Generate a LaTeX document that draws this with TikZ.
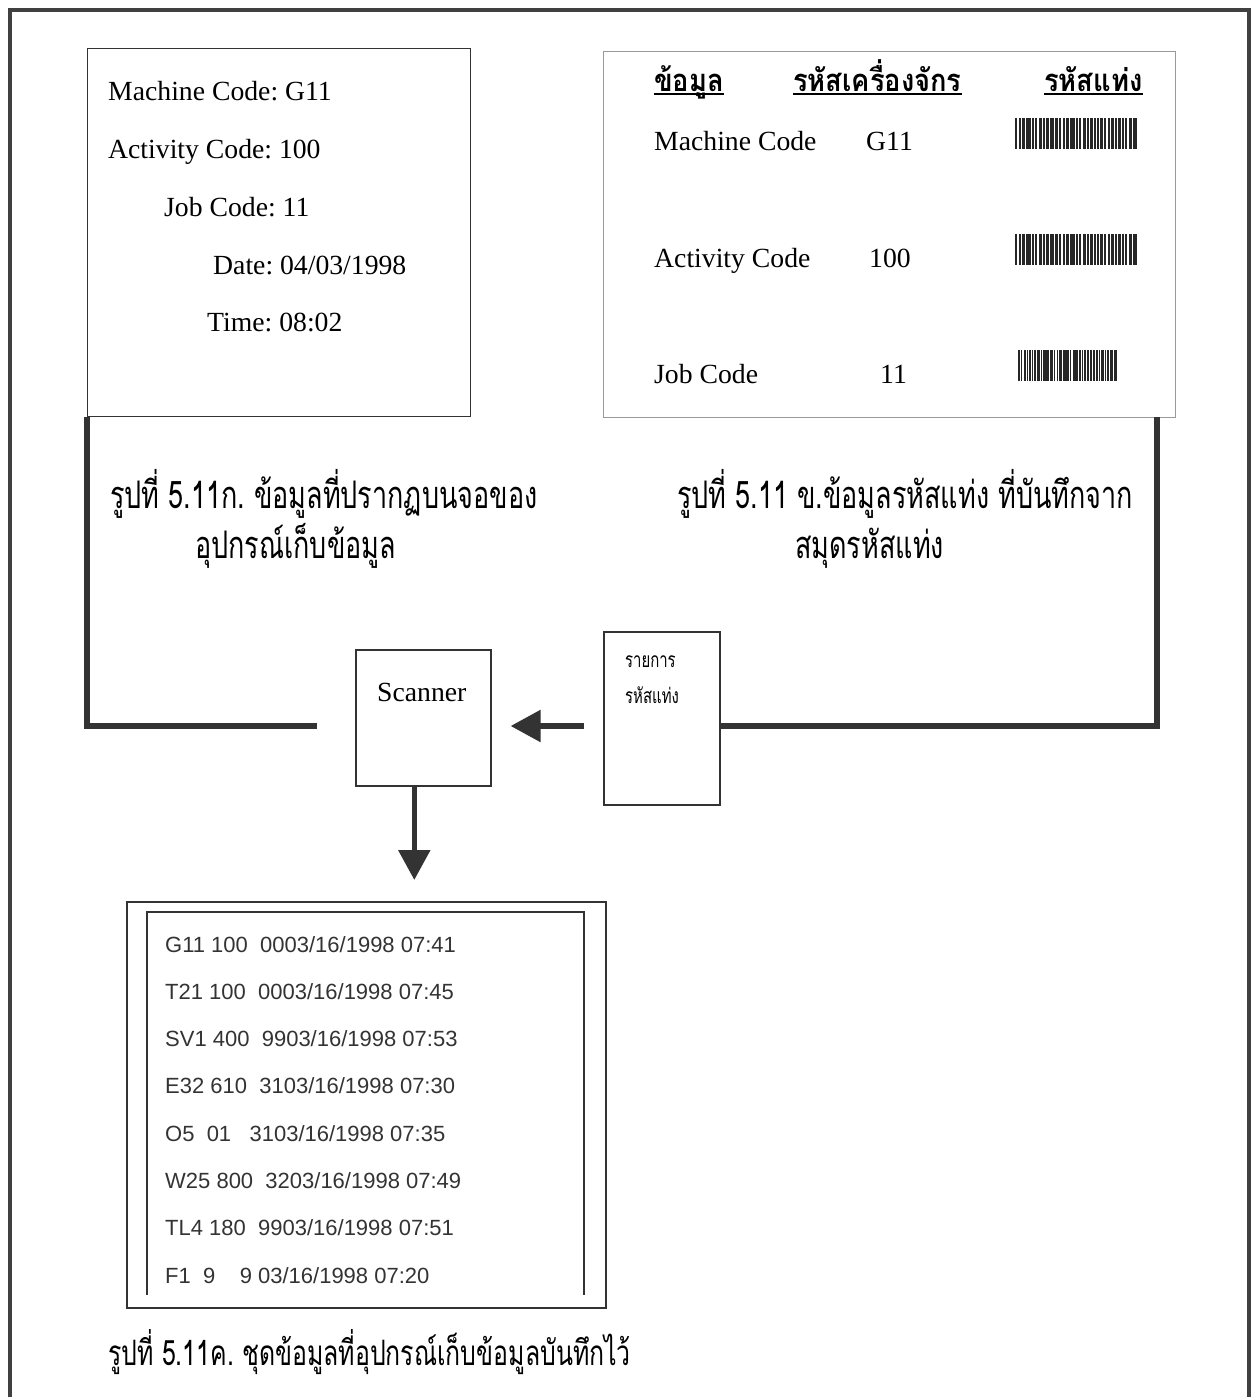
\documentclass[tikz,border=0pt]{standalone}
\usepackage{fontspec}
\setmainfont{Liberation Serif}
\newfontfamily\thaifont[Script=Thai,FakeStretch=0.71]{Loma}
\newfontfamily\thaiwide[Script=Thai,FakeStretch=0.88]{Loma}
\newfontfamily\logfont{Liberation Sans}
\usetikzlibrary{arrows.meta}
\frenchspacing
\newcommand\barpattern{0/2,4/1.5,7/3,11/1.5,13/3,17/1.5,20/2,24/3,28/1.5,31/3,35/1.5,37/1.5,40/3,44/2,48/1.5,51/3,55/1.5,57/3,61/1.5,64/2,68/3,72/1.5,75/3,79/1.5,82/1.5,85/3,89/2,93/1.5,96/3,100/1.5,103/3,107/1.5,110/2,114/3,118/1.5,120/2}
\begin{document}
\begin{tikzpicture}[x=1pt,y=-1pt,
  txt/.style={inner sep=0pt,anchor=base west,font=\fontsize{27.7}{30}\selectfont},
  thcap/.style={inner sep=0pt,anchor=base west,font=\thaifont\fontsize{38}{44}\selectfont},
  thhead/.style={inner sep=0pt,anchor=base west,font=\thaiwide\bfseries\fontsize{31}{34}\selectfont},
  thsmall/.style={inner sep=0pt,anchor=base west,font=\thaifont\fontsize{21}{24}\selectfont},
  logtxt/.style={inner sep=0pt,anchor=base west,text=black!80,font=\logfont\fontsize{22}{24}\selectfont},
  box/.style={draw=black!80,line width=1.4pt,inner sep=0pt,anchor=north west},
  fat/.style={draw=black!80,line width=5.5pt},
  fatarrow/.style={fat,-{Triangle[length=30pt,width=31pt]}}]
\useasboundingbox (0,0) rectangle (1259,1397);
\draw[line width=4pt,black!75] (10,1397) -- (10,10) -- (1249,10) -- (1249,1397);
% screen of the data collector
\node[box,minimum width=383pt,minimum height=368pt] (scr) at (87,48) {};
\node[txt] (m1) at (108,100) {Machine Code: G11};
\node[txt] (m2) at (108,158) {Activity Code: 100};
\node[txt] (m3) at (164,216) {Job Code: 11};
\node[txt] (m4) at (213,274) {Date: 04/03/1998};
\node[txt] (m5) at (207,331) {Time: 08:02};
% barcode book
\node[box,draw=black!40,line width=1pt,minimum width=572pt,minimum height=366pt] (tab) at (603,51) {};
\node[thhead] (h1) at (654,92) {ข้อมูล}; \node[thhead] (h2) at (793,92) {รหัสเครื่องจักร};
\node[thhead] (h3) at (1044,92) {รหัสแท่ง};
\foreach \h in {h1,h2,h3} \draw[line width=1.2pt] ([yshift=-2pt]\h.base west) -- ([yshift=-2pt]\h.base east);
\node[txt] (r1) at (654,150) {Machine Code}; \node[txt] (c1) at (866,150) {G11};
\node[txt] (r2) at (654,267) {Activity Code}; \node[txt] (c2) at (869,267) {100};
\node[txt] (r3) at (654,383) {Job Code}; \node[txt] (c3) at (880,383) {11};
\foreach \bx/\by/\bw in {1015/118/1,1015/234/1,1018/350/0.81}
  \foreach \p/\w in \barpattern \fill[black!85] (\bx+\bw*\p,\by) rectangle ++(\bw*\w,31);
% captions
\node[thcap] (capa1) at (110,508) {รูปที่ 5.11ก. ข้อมูลที่ปรากฏบนจอของ};
\node[thcap] (capa2) at (195,558) {อุปกรณ์เก็บข้อมูล};
\node[thcap] (capb1) at (677,508) {รูปที่ 5.11 ข.ข้อมูลรหัสแท่ง ที่บันทึกจาก};
\node[thcap] (capb2) at (795,558) {สมุดรหัสแท่ง};
% scanner and list
\node[box,line width=1.6pt,minimum width=135pt,minimum height=136pt] (scn) at (355,649) {};
\node[txt] (scnlbl) at (377,701) {Scanner};
\node[box,line width=1.6pt,minimum width=116pt,minimum height=173pt] (lst) at (603,631) {};
\node[thsmall] (lst1) at (625,667) {รายการ}; \node[thsmall] (lst2) at (625,703) {รหัสแท่ง};
\coordinate (flow) at (0,726); \coordinate (lend) at (317,726); \coordinate (rtop) at (1157,417);
\draw[fat] (scr.south west) |- (lend);
\draw[fat] (rtop) |- (lst.east |- flow);
\draw[fatarrow,shorten <=19pt,shorten >=19pt] (lst.west |- flow) -- (scn.east |- flow);
\draw[fatarrow,shorten >=21pt] ([xshift=-9pt]scn.south) -- ([xshift=-9pt]scn.south |- 0,901);
% records stored in the collector
\node[box,line width=1.5pt,minimum width=479pt,minimum height=406pt] (log) at (126,901) {};
\draw[black!80,line width=1.3pt] (147,1295) |- (584,912) -- (584,1295);
\foreach \t [count=\i from 0] in {G11 100~~0003/16/1998 07:41,T21 100~~0003/16/1998 07:45,
  SV1 400~~9903/16/1998 07:53,E32 610~~3103/16/1998 07:30,O5~~01~~~3103/16/1998 07:35,
  W25 800~~3203/16/1998 07:49,TL4 180~~9903/16/1998 07:51,F1~~9~~~~9 03/16/1998 07:20}
  \node[logtxt] (row\i) at (165,952+47.3*\i) {\t};
\node[thcap,font=\thaifont\fontsize{35}{40}\selectfont] (capc) at (108,1365) {รูปที่ 5.11ค. ชุดข้อมูลที่อุปกรณ์เก็บข้อมูลบันทึกไว้};
\end{tikzpicture}
\end{document}
